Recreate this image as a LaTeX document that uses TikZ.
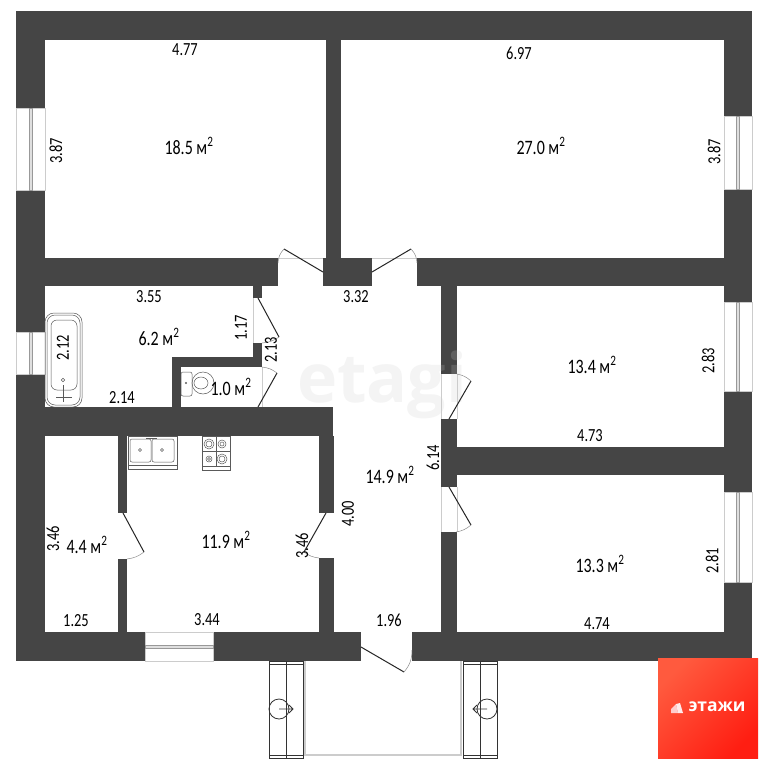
\documentclass[tikz,border=0pt]{standalone}
\usepackage{fontspec}
\setmainfont[FakeStretch=0.78]{Carlito}
\newfontfamily\logofont{Open Sans}
\usetikzlibrary{calc}
\definecolor{wallgray}{HTML}{454545}
\definecolor{fixgray}{HTML}{5A5A5A}
\definecolor{edgegray}{HTML}{CCCCCC}
\definecolor{markgray}{HTML}{C8C8C8}
\definecolor{logolight}{HTML}{FF5A3E}
\definecolor{logodark}{HTML}{FF1E12}
\tikzset{
    wall/.style={fill=wallgray, draw=none},
    winpane/.style={fill=white, draw=edgegray, thin},
    winbar/.style={draw=gray!80, fill=gray!25, line width=0.5pt},
    leaf/.style={draw=black!85, line width=1pt},
    swing/.style={draw=gray!90, line width=0.5pt},
    jamb/.style={draw=edgegray, line width=0.4pt},
    fixture/.style={draw=fixgray, line width=0.5pt},
    sofa/.style={draw=black!80, line width=0.8pt},
    size/.style={font=\fontsize{18.5}{18.5}\selectfont, text=black, inner sep=0pt},
    room/.style={font=\fontsize{20.5}{20.5}\selectfont, text=black, inner sep=0pt},
}
\begin{document}
\begin{tikzpicture}[x=1pt, y=-1pt]
        \useasboundingbox (0,0) rectangle (768,768);
        \fill[white] (0,0) rectangle (768,768);
        % outer walls
        \fill[wall] (16,11) rectangle (752,40);
        \fill[wall] (16,11) rectangle (45,661);
        \fill[wall] (724,11) rectangle (752,661);
        \fill[wall] (16,632) rectangle (145,661);
        \fill[wall] (213,632) rectangle (361,661);
        \fill[wall] (412,632) rectangle (752,661);
        % inner walls
        \fill[wall] (326,40) rectangle (341,258);
        \fill[wall] (45,258) rectangle (278,286);
        \fill[wall] (323,258) rectangle (372,286);
        \fill[wall] (417,258) rectangle (724,286);
        \fill[wall] (253,286) rectangle (262,298);
        \fill[wall] (253,343) rectangle (262,367);
        \fill[wall] (172,357) rectangle (262,367);
        \fill[wall] (172,357) rectangle (181,407);
        \fill[wall] (45,407) rectangle (333,436);
        \fill[wall] (441,286) rectangle (457,374);
        \fill[wall] (441,419) rectangle (457,487);
        \fill[wall] (441,532) rectangle (457,632);
        \fill[wall] (457,447) rectangle (724,475);
        \fill[wall] (118,436) rectangle (127,513);
        \fill[wall] (118,559) rectangle (127,632);
        \fill[wall] (319,436) rectangle (334,513);
        \fill[wall] (319,558) rectangle (334,632);
        % watermark
        \node[font=\logofont\bfseries\fontsize{68}{68}\selectfont, text=markgray, text opacity=0.2, inner sep=0pt] (watermark) at (382,385) {etagi};
        % windows
        \draw[winpane] (16,108) rectangle (45,190);
        \draw[winbar] (29,108) rectangle (32,190);
        \draw[winpane] (16,332) rectangle (45,374);
        \draw[winbar] (29,332) rectangle (32,374);
        \draw[winpane] (724,116) rectangle (752,189);
        \draw[winbar] (736,116) rectangle (739,189);
        \draw[winpane] (724,302) rectangle (752,391);
        \draw[winbar] (736,302) rectangle (739,391);
        \draw[winpane] (724,492) rectangle (752,582);
        \draw[winbar] (736,492) rectangle (739,582);
        \draw[winpane] (145,632) rectangle (213,661);
        \draw[winbar] (145,645) rectangle (213,648);
        % doors
        \draw[jamb] (278,258) -- (323,258) (372,258) -- (417,258);
        \draw[jamb] (253,298) -- (253,343) (262,367) -- (262,407) (441,374) -- (441,419) (457,374) -- (457,419);
        \draw[jamb] (441,487) -- (441,532) (457,487) -- (457,532);
        \draw[leaf] (323,272) -- (284,249);
        \draw[swing] (284,249) to[bend right=20] (278,263);
        \draw[leaf] (372,272) -- (411,249);
        \draw[swing] (411,249) to[bend left=20] (417,263);
        \draw[leaf] (258,298) -- (279,337);
        \draw[swing] (279,337) to[bend left=15] (262,343);
        \draw[leaf] (258,407) -- (277,373);
        \draw[swing] (277,373) to[bend right=15] (262,367);
        \draw[leaf] (449,419) -- (471,381);
        \draw[swing] (471,381) to[bend right=15] (457,374);
        \draw[leaf] (449,487) -- (471,525);
        \draw[swing] (471,525) to[bend left=15] (456,532);
        \draw[leaf] (123,513) -- (144,552);
        \draw[swing] (144,552) to[bend left=15] (127,559);
        \draw[leaf] (326,513) -- (304,552);
        \draw[swing] (304,552) to[bend right=15] (319,558);
        \draw[leaf] (361,647) -- (404,672);
        \draw[swing] (404,672) to[bend right=20] (412,650);
        % bath
        \draw[fixture, rounded corners=9pt] (45,407) -- (45,313) -- (82,313) -- (82,407) -- cycle;
        \draw[fixture, rounded corners=8pt] (47,405) -- (47,315) -- (80,315) -- (80,405) -- cycle;
        \draw[fixture, rounded corners=6pt] (51,320) rectangle (77,390);
        \draw[fixture] (63,380) circle (1.8);
        \draw[fixture] (56,397) -- (72,397) (63,385) -- (63,402);
        % toilet
        \draw[fixture, rounded corners=2pt] (181,372) rectangle (192,396);
        \draw[fixture] (203,383) ellipse (11 and 11);
        \draw[fixture] (201,383) ellipse (7 and 6);
        \draw[fixture] (186,383) circle (0.8);
        % sink
        \draw[fixture] (128,436) rectangle (177,465);
        \draw[fixture] (128,465) rectangle (177,469);
        \draw[fixture, rounded corners=2pt] (130,439) rectangle (151,462);
        \draw[fixture, rounded corners=2pt] (152,439) rectangle (174,462);
        \draw[fixture] (140,450) circle (1.5) (162,450) circle (1.5);
        \draw[fixture] (146,438) -- (157,438);
        % stove
        \draw[fixture] (202,436) rectangle (230,466);
        \draw[fixture] (202,466) rectangle (230,470);
        \draw[fixture] (216,436) -- (216,466) (202,451) -- (230,451);
        \draw[fixture] (209,444) circle (5) (209,444) circle (3);
        \draw[fixture] (222,444) circle (4) (222,444) circle (2);
        \draw[fixture] (209,459) circle (3) (209,459) circle (1.5);
        \draw[fixture] (222,459) circle (5) (222,459) circle (3);
        % balcony
        \draw[edgegray, line width=1.2pt] (305,661) -- (305,755) -- (461,755) -- (461,661);
        \draw[sofa] (269,661) rectangle (303,758);
        \draw[sofa] (286,661) -- (286,758) (269,664) -- (303,664) (269,755) -- (303,755);
        \draw[sofa] (279,709) circle (10);
        \draw[sofa] (279,709) -- (293,709) (289,705) -- (293,709) -- (289,713);
        \draw[sofa] (463,661) rectangle (497,758);
        \draw[sofa] (480,661) -- (480,758) (463,664) -- (497,664) (463,755) -- (497,755);
        \draw[sofa] (487,709) circle (10);
        \draw[sofa] (487,709) -- (473,709) (477,705) -- (473,709) -- (477,713);
        % sizes
        \node[size] (topleftw) at (185,50) {4.77};
        \node[size] (toprightw) at (519,53) {6.97};
        \node[size, rotate=90] (topleftd) at (56,151) {3.87};
        \node[size, rotate=90] (toprightd) at (714,152) {3.87};
        \node[size] (bathw) at (149,297) {3.55};
        \node[size] (hallw) at (356,297) {3.32};
        \node[size, rotate=90] (bathdoor) at (241,328) {1.17};
        \node[size, rotate=90] (halldoor) at (271,350) {2.13};
        \node[size, rotate=90] (bathd) at (63,348) {2.12};
        \node[size] (bathb) at (122,398) {2.14};
        \node[size, rotate=90] (midrightd) at (708,361) {2.83};
        \node[size] (midrightw) at (590,436) {4.73};
        \node[size, rotate=90] (hallside) at (433,458) {6.14};
        \node[size, rotate=90] (lowrightd) at (712,561) {2.81};
        \node[size] (lowrightw) at (597,624) {4.74};
        \node[size, rotate=90] (kitchenh) at (348,514) {4.00};
        \node[size, rotate=90] (kitchend) at (302,546) {3.46};
        \node[size, rotate=90] (pantryd) at (53,539) {3.46};
        \node[size] (pantryw) at (76,621) {1.25};
        \node[size] (kitchenw) at (207,620) {3.44};
        \node[size] (hallb) at (389,620) {1.96};
        % areas
        \node[room] (bigleft) at (189,146) {18.5 м\textsuperscript{2}};
        \node[room] (bigright) at (541,146) {27.0 м\textsuperscript{2}};
        \node[room] (bath) at (159,337) {6.2 м\textsuperscript{2}};
        \node[room] (wc) at (231,387) {1.0 м\textsuperscript{2}};
        \node[room] (midright) at (592,365) {13.4 м\textsuperscript{2}};
        \node[room] (hall) at (390,475) {14.9 м\textsuperscript{2}};
        \node[room] (lowright) at (600,564) {13.3 м\textsuperscript{2}};
        \node[room] (kitchen) at (226,540) {11.9 м\textsuperscript{2}};
        \node[room] (pantry) at (87,545) {4.4 м\textsuperscript{2}};
        % logo
        \shade[top color=logolight, bottom color=logodark, shading angle=45] (658,658) rectangle (758,758);
        \fill[white!80!red] (671,713) -- (671,709) -- (676,704) -- (678,713) -- cycle;
        \fill[white!92!red] (678,713) -- (676,704) -- (680,703) -- (683,713) -- cycle;
        \node[font=\logofont\bfseries\fontsize{17.5}{17.5}\selectfont, text=white, inner sep=0pt] (logotext) at (717,707) {этажи};
    \end{tikzpicture}
\end{document}
